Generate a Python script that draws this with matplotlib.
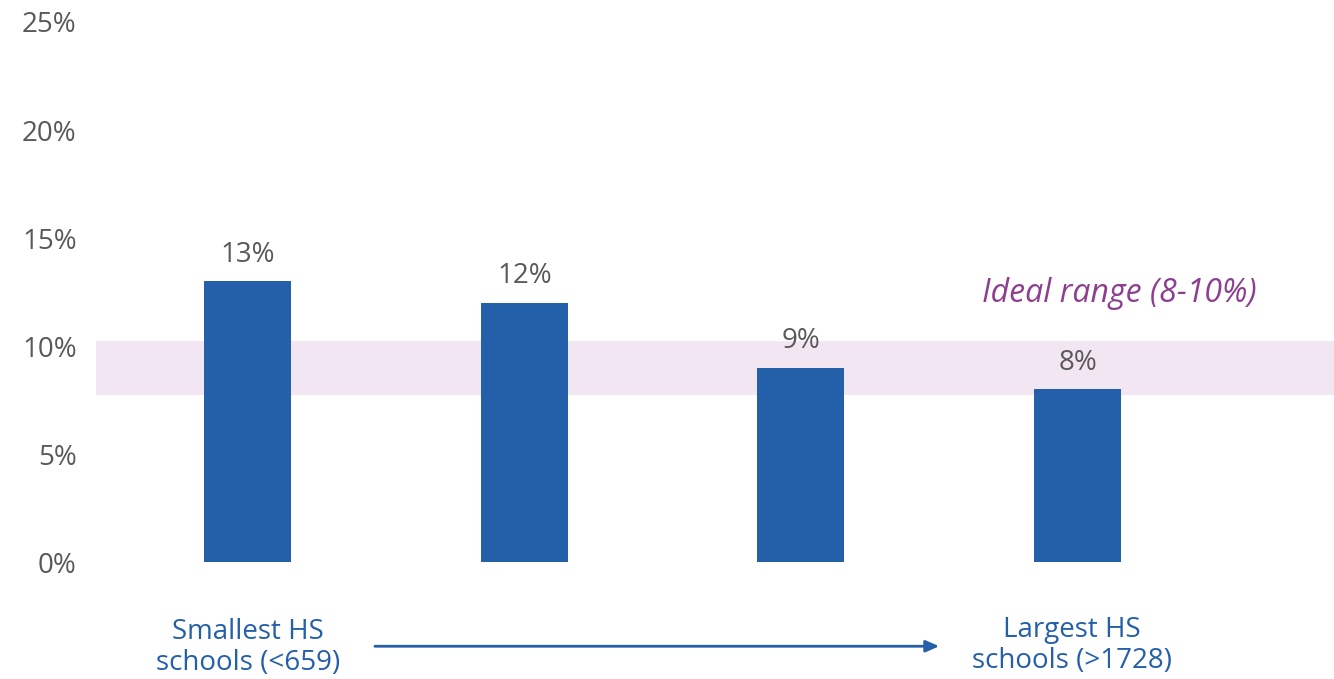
import matplotlib
matplotlib.use("Agg")
import matplotlib.pyplot as plt

# data
groups = ["Smallest", "2", "3", "Largest"]
shares = [13, 12, 9, 8]
ideal_low, ideal_high = 7.75, 10.25
yticks = [0, 5, 10, 15, 20, 25]

bar_blue = "#245FAA"
band_pink = "#F3E6F3"
purple = "#8E3E91"
grey = "#595959"

plt.rcParams["font.family"] = ["Open Sans", "DejaVu Sans"]

fig = plt.figure(figsize=(13.34, 6.79), dpi=100)
ax = fig.add_axes([0.072, 0.1723, 0.928, 0.7953])

x = list(range(len(groups)))
ax.axhspan(ideal_low, ideal_high, color=band_pink, zorder=0, lw=0)
ax.bar(x, shares, width=0.314, color=bar_blue, zorder=2)

for xi, v in zip(x, shares):
    ax.annotate("%d%%" % v, (xi, v), xytext=(0, 9), textcoords="offset points",
                ha="center", va="bottom", fontsize=20, color=grey)

ax.text(3.15, 12.45, "Ideal range (8-10%)", style="italic", fontsize=23,
        color=purple, ha="center", va="center")

ax.set_xlim(-0.548, 3.927)
ax.set_ylim(0, 25)
ax.set_yticks(yticks)
ax.set_yticklabels(["%d%%" % t for t in yticks])
ax.set_xticks([])
ax.tick_params(axis="y", length=0, labelsize=20, labelcolor=grey, pad=14)
for s in ax.spines.values():
    s.set_visible(False)

trans = ax.get_xaxis_transform()
ax.text(0, -0.158, "Smallest HS\nschools (<659)", transform=trans, ha="center",
        va="center", fontsize=20, color=bar_blue, linespacing=1.15)
ax.text(2.98, -0.155, "Largest HS\nschools (>1728)", transform=trans, ha="center",
        va="center", fontsize=20, color=bar_blue, linespacing=1.15)
ax.annotate("", xy=(2.51, -0.156), xytext=(0.45, -0.156), xycoords=trans,
            textcoords=trans, annotation_clip=False,
            arrowprops=dict(arrowstyle="-|>,head_length=0.8,head_width=0.35",
                            color=bar_blue, lw=2))

fig.savefig("out.png", dpi=100)
